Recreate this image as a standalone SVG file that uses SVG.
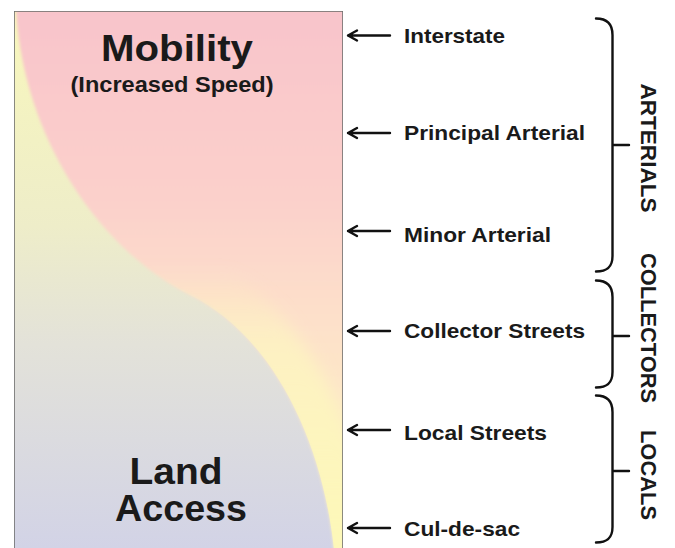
<svg xmlns="http://www.w3.org/2000/svg" width="675" height="548" viewBox="0 0 675 548">
<defs>
<linearGradient id="gA" x1="0" y1="12" x2="0" y2="548" gradientUnits="userSpaceOnUse">
<stop offset="0" stop-color="#f8c4cb"/>
<stop offset="0.35" stop-color="#fbd0cb"/>
<stop offset="0.55" stop-color="#fddfca"/>
<stop offset="0.8" stop-color="#fdebc6"/>
<stop offset="1" stop-color="#fcf2c2"/>
</linearGradient>
<linearGradient id="gB" x1="0" y1="12" x2="0" y2="548" gradientUnits="userSpaceOnUse">
<stop offset="0" stop-color="#f8f7bc"/>
<stop offset="0.4" stop-color="#eeedc9"/>
<stop offset="0.62" stop-color="#e3e2d9"/>
<stop offset="1" stop-color="#d2d3e6"/>
</linearGradient>
<linearGradient id="gY" x1="0" y1="12" x2="0" y2="548" gradientUnits="userSpaceOnUse">
<stop offset="0" stop-color="#fbf6c0" stop-opacity="0"/>
<stop offset="0.48" stop-color="#fbf6c0" stop-opacity="0"/>
<stop offset="0.62" stop-color="#fdf6c0" stop-opacity="0.7"/>
<stop offset="1" stop-color="#fdf8b8" stop-opacity="1"/>
</linearGradient>
<filter id="blur" x="-20%" y="-20%" width="140%" height="140%">
<feGaussianBlur stdDeviation="8"/>
</filter>
<filter id="soft" x="-5%" y="-5%" width="110%" height="110%">
<feGaussianBlur stdDeviation="1.5"/>
</filter>
<clipPath id="panel"><rect x="14" y="11" width="329" height="550"/></clipPath>
<clipPath id="regA"><path d="M16,10 C24,140 100,250 190,295 C271,335 325,440 335,560 L345,560 L345,10 Z"/></clipPath>
</defs>
<style>
.lbl{font-family:"Liberation Sans",Arial,sans-serif;font-weight:bold;font-size:21px;fill:#1a1a1a}
.big{font-family:"Liberation Sans",Arial,sans-serif;font-weight:bold;font-size:36px;fill:#1a1a1a;text-anchor:middle}
.sub{font-family:"Liberation Sans",Arial,sans-serif;font-weight:bold;font-size:22px;fill:#1a1a1a;text-anchor:middle}
.vt{font-family:"Liberation Sans",Arial,sans-serif;font-weight:bold;font-size:22px;fill:#1a1a1a;text-anchor:middle}
.ln{fill:none;stroke:#111;stroke-width:2.4;stroke-linecap:round;stroke-linejoin:round}
</style>

<g id="panel-bg" clip-path="url(#panel)">
<rect x="14" y="11" width="329" height="550" fill="url(#gB)"/>
<path d="M16,10 C24,140 100,250 190,295 C271,335 325,440 335,560 L345,560 L345,10 Z" fill="url(#gA)" filter="url(#soft)"/>
<g clip-path="url(#regA)">
<path d="M16,10 C24,140 100,250 190,295 C271,335 325,440 335,560" fill="none" stroke="url(#gY)" stroke-width="80" filter="url(#blur)"/>
</g>
<rect x="14" y="11" width="329" height="550" fill="none" stroke="#6e6e6e" stroke-width="1.6"/>
</g>

<g id="mobility">
<text class="big" x="177" y="61" textLength="152" lengthAdjust="spacingAndGlyphs">Mobility</text>
<text class="sub" x="172" y="92" textLength="203" lengthAdjust="spacingAndGlyphs">(Increased Speed)</text>
</g>
<g id="land-access">
<text class="big" x="176" y="484" textLength="93" lengthAdjust="spacingAndGlyphs">Land</text>
<text class="big" x="181" y="521" textLength="132" lengthAdjust="spacingAndGlyphs">Access</text>
</g>

<g id="connectors">
<path class="ln" d="M348,35.5 L390,35.5 M357,30.5 L348,35.5 L357,40.5"/>
<path class="ln" d="M348,133 L390,133 M357,128 L348,133 L357,138"/>
<path class="ln" d="M348,231 L390,231 M357,226 L348,231 L357,236"/>
<path class="ln" d="M348,331 L390,331 M357,326 L348,331 L357,336"/>
<path class="ln" d="M348,430 L390,430 M357,425 L348,430 L357,435"/>
<path class="ln" d="M348,528 L390,528 M357,523 L348,528 L357,533"/>
</g>

<g id="interstate"><text class="lbl" x="404" y="43" textLength="101" lengthAdjust="spacingAndGlyphs">Interstate</text></g>
<g id="principal-arterial"><text class="lbl" x="404" y="140" textLength="181" lengthAdjust="spacingAndGlyphs">Principal Arterial</text></g>
<g id="minor-arterial"><text class="lbl" x="404" y="242" textLength="147" lengthAdjust="spacingAndGlyphs">Minor Arterial</text></g>
<g id="collector-streets"><text class="lbl" x="404" y="338" textLength="181" lengthAdjust="spacingAndGlyphs">Collector Streets</text></g>
<g id="local-streets"><text class="lbl" x="404" y="440" textLength="143" lengthAdjust="spacingAndGlyphs">Local Streets</text></g>
<g id="cul-de-sac"><text class="lbl" x="404" y="536" textLength="116" lengthAdjust="spacingAndGlyphs">Cul-de-sac</text></g>

<g id="arterials">
<path class="ln" d="M596,18.5 C607,18.5 612.5,24 612.5,35 L612.5,256 C612.5,267 607,271.5 596,271.5 M612.5,145 L629,145"/>
<text class="vt" transform="translate(641,148) rotate(90)" x="0" y="0" textLength="129" lengthAdjust="spacingAndGlyphs">ARTERIALS</text>
</g>
<g id="collectors">
<path class="ln" d="M596,280.5 C607,280.5 612.5,286 612.5,297 L612.5,372 C612.5,383 607,387.5 596,387.5 M612.5,336 L629,336"/>
<text class="vt" transform="translate(641,328) rotate(90)" x="0" y="0" textLength="150" lengthAdjust="spacingAndGlyphs">COLLECTORS</text>
</g>
<g id="locals">
<path class="ln" d="M596,395.5 C607,395.5 612.5,401 612.5,412 L612.5,527 C612.5,538 607,542.5 596,542.5 M612.5,471 L629,471"/>
<text class="vt" transform="translate(641,475) rotate(90)" x="0" y="0" textLength="90" lengthAdjust="spacingAndGlyphs">LOCALS</text>
</g>
</svg>
